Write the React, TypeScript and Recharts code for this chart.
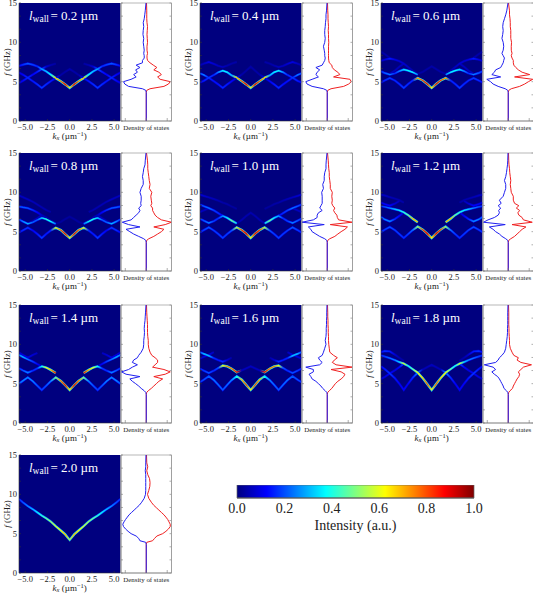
import { Area, AreaChart, CartesianGrid, Line, LineChart, ReferenceArea, XAxis, YAxis } from 'recharts';

const _ = null;
type Num = number | null;

// right half of the kx axis, mirrored for the left half
const kHalf = [0, 0.5, 1.0, 1.57, 2.14, 2.64, 3.14, 3.64, 4.14, 4.71, 5.28, 5.7];
const kLimit = 5.7;
const kTicks = [-5, -2.5, 0, 2.5, 5];
const fTicks = [0, 1.67, 3.33, 5, 6.67, 8.33, 10, 11.67, 13.33, 15];
const dosTicks = [-0.83, 0, 0.83];
const colorbarTicks = [0, 0.2, 0.4, 0.6, 0.8, 1];
const colorbarEnds = [{ v: 0, h: 1 }, { v: 1, h: 1 }];

// frequency grid of the density of states curves
const dosF = [0, 3.6, 3.9, 4.1, 4.4, 4.7, 5, 5.3, 5.6, 5.9, 6.2, 6.5, 6.8, 7.1, 7.4, 7.7, 8, 8.3, 8.6, 9, 9.5, 10, 10.5, 11, 11.5, 12, 12.5, 13, 13.5, 14, 15];

const bandsF02: Num[][] = [
  [_, _, _, 7.3, 7.1, 6.9, 6.6, 6.25, 5.9, 5.5, 5.1, 4.85],
  [6.6, 6.25, 5.85, 5.45, 5.05, 4.65, 4.2, 4.65, 5.05, 5.5, 5.9, 6.15],
  [4.2, 4.65, 5.05, 5.45, 5.9, 6.3, 6.6, 6.95, 7.15, 7.3, 7.15, 7.0],
];
const bandsI02: Num[][] = [
  [_, _, _, 0.05, 0.06, 0.1, 0.25, 0.18, 0.15, 0.2, 0.15, 0.12],
  [0.06, 0.05, 0.05, 0.15, 0.18, 0.2, 0.22, 0.2, 0.18, 0.2, 0.15, 0.12],
  [0.62, 0.85, 0.75, 0.68, 0.42, 0.36, 0.32, 0.2, 0.22, 0.25, 0.2, 0.15],
];
const dosRed02 = [0, 0, 0.02, 0.15, 0.7, 0.88, 0.95, 0.55, 0.45, 0.6, 0.5, 0.3, 0.42, 0.28, 0.15, 0.05, 0.03, 0.03, 0.05, 0.03, 0.03, 0.05, 0.04, 0.03, 0.04, 0.05, 0.03, 0.02, 0.02, 0.02, 0.01];
const dosBlue02 = [0, 0, 0.02, 0.15, 0.7, 0.85, 0.9, 0.6, 0.4, 0.5, 0.35, 0.42, 0.25, 0.4, 0.15, 0.15, 0.08, 0.08, 0.1, 0.08, 0.1, 0.12, 0.1, 0.13, 0.12, 0.1, 0.12, 0.08, 0.06, 0.04, 0.01];

const bandsF04: Num[][] = [
  [_, _, _, 7.5, 7.3, 7.05, 6.85, 7.0, 7.25, 7.5, 7.3, 7.1],
  [6.9, 6.4, 5.9, 5.5, 5.05, 4.65, 4.2, 4.65, 5.05, 5.5, 5.85, 6.05],
  [4.2, 4.65, 5.05, 5.5, 5.8, 6.2, 6.4, 6.2, 5.85, 5.5, 5.1, 4.9],
];
const bandsI04: Num[][] = [
  [_, _, _, 0.05, 0.05, 0.06, 0.08, 0.08, 0.1, 0.12, 0.08, 0.06],
  [0.05, 0.05, 0.05, 0.12, 0.15, 0.18, 0.2, 0.17, 0.17, 0.2, 0.3, 0.25],
  [0.62, 0.85, 0.78, 0.68, 0.35, 0.4, 0.42, 0.3, 0.2, 0.22, 0.18, 0.15],
];
const dosRed04 = [0, 0, 0.02, 0.15, 0.65, 0.85, 0.95, 0.9, 0.25, 0.5, 0.42, 0.28, 0.2, 0.18, 0.08, 0.06, 0.05, 0.05, 0.05, 0.05, 0.05, 0.06, 0.05, 0.05, 0.04, 0.05, 0.04, 0.03, 0.03, 0.02, 0.01];
const dosBlue04 = [0, 0, 0.02, 0.15, 0.6, 0.8, 0.85, 0.6, 0.35, 0.45, 0.4, 0.3, 0.45, 0.2, 0.15, 0.1, 0.08, 0.1, 0.1, 0.12, 0.15, 0.1, 0.08, 0.1, 0.1, 0.08, 0.07, 0.05, 0.05, 0.03, 0.01];

const bandsF06: Num[][] = [
  [_, _, _, _, _, _, _, _, _, 8.0, 8.5, 8.8],
  [_, _, _, _, _, _, 7.3, 6.9, 6.4, 6.0, _, _],
  [6.95, 6.6, 6.25, 6.0, 6.4, 6.85, 7.3, 7.6, 7.8, 7.95, 7.8, 7.65],
  [_, _, _, 5.9, 6.2, 6.4, 6.55, 6.35, 6.05, 5.9, 6.1, 6.3],
  [4.2, 4.7, 5.15, 5.45, 5.15, 4.7, 4.2, 4.7, 5.15, 5.45, 5.15, 4.9],
];
const bandsI06: Num[][] = [
  [_, _, _, _, _, _, _, _, _, 0.06, 0.05, 0.05],
  [_, _, _, _, _, _, 0.08, 0.08, 0.08, 0.08, _, _],
  [0.05, 0.05, 0.05, 0.05, 0.06, 0.08, 0.1, 0.1, 0.12, 0.18, 0.12, 0.1],
  [_, _, _, 0.3, 0.4, 0.42, 0.38, 0.3, 0.2, 0.3, 0.25, 0.2],
  [0.62, 0.85, 0.8, 0.72, 0.2, 0.2, 0.22, 0.2, 0.2, 0.22, 0.2, 0.15],
];
const dosRed06 = [0, 0, 0.02, 0.12, 0.45, 0.65, 0.8, 0.97, 0.25, 0.85, 0.55, 0.4, 0.3, 0.22, 0.2, 0.2, 0.15, 0.12, 0.15, 0.12, 0.12, 0.13, 0.1, 0.1, 0.1, 0.08, 0.08, 0.07, 0.05, 0.05, 0.01];
const dosBlue06 = [0, 0, 0.02, 0.12, 0.4, 0.6, 0.7, 0.85, 0.3, 0.65, 0.55, 0.5, 0.3, 0.25, 0.2, 0.18, 0.15, 0.2, 0.25, 0.2, 0.18, 0.2, 0.25, 0.22, 0.2, 0.22, 0.2, 0.15, 0.1, 0.06, 0.01];

const bandsF08: Num[][] = [
  [_, _, _, _, 7.5, 7.75, 8.1, 8.45, 8.8, 9.1, 9.4, 9.6],
  [_, _, _, _, _, _, 7.1, 6.7, 6.35, 6.0, _, _],
  [6.9, 6.6, 6.25, 6.0, 6.4, 6.8, 7.1, 7.45, 7.75, 8.0, 8.1, 8.2],
  [_, _, _, 6.0, 6.3, 6.6, 6.75, 6.5, 6.2, 6.0, 6.3, 6.55],
  [4.2, 4.7, 5.2, 5.5, 5.15, 4.7, 4.2, 4.7, 5.15, 5.5, 5.15, 4.9],
];
const bandsI08: Num[][] = [
  [_, _, _, _, 0.05, 0.06, 0.06, 0.07, 0.07, 0.08, 0.08, 0.08],
  [_, _, _, _, _, _, 0.08, 0.08, 0.08, 0.08, _, _],
  [0.04, 0.04, 0.04, 0.04, 0.05, 0.06, 0.08, 0.15, 0.2, 0.25, 0.25, 0.22],
  [_, _, _, 0.28, 0.42, 0.45, 0.38, 0.25, 0.25, 0.35, 0.3, 0.2],
  [0.6, 0.85, 0.78, 0.62, 0.2, 0.18, 0.22, 0.18, 0.15, 0.22, 0.2, 0.15],
];
const dosRed08 = [0, 0, 0.02, 0.1, 0.3, 0.45, 0.6, 0.7, 0.3, 0.75, 1, 0.6, 0.45, 0.35, 0.3, 0.25, 0.25, 0.18, 0.22, 0.2, 0.18, 0.22, 0.12, 0.15, 0.12, 0.1, 0.08, 0.06, 0.06, 0.05, 0.01];
const dosBlue08 = [0, 0, 0.02, 0.1, 0.3, 0.5, 0.65, 0.8, 0.25, 0.7, 0.95, 0.6, 0.5, 0.4, 0.3, 0.25, 0.3, 0.2, 0.22, 0.2, 0.2, 0.25, 0.2, 0.12, 0.12, 0.15, 0.12, 0.1, 0.05, 0.04, 0.01];

const bandsF10: Num[][] = [
  [_, _, _, 7.9, 8.2, 8.5, 8.7, 8.95, 9.15, 9.35, 9.55, 9.7],
  [_, _, _, _, _, _, _, _, _, 8.0, 7.7, 7.5],
  [7.4, 7.0, 6.5, 6.05, _, _, 7.0, 7.35, 7.7, 8.0, 8.25, 8.45],
  [_, _, _, 6.05, 6.4, 6.75, 7.0, 6.7, 6.35, 6.1, 6.4, 6.65],
  [4.2, 4.75, 5.2, 5.55, 5.15, 4.7, 4.2, 4.7, 5.15, 5.55, 5.2, 4.9],
];
const bandsI10: Num[][] = [
  [_, _, _, 0.04, 0.04, 0.05, 0.05, 0.06, 0.07, 0.08, 0.1, 0.1],
  [_, _, _, _, _, _, _, _, _, 0.1, 0.08, 0.08],
  [0.06, 0.06, 0.06, 0.06, _, _, 0.15, 0.2, 0.22, 0.28, 0.25, 0.2],
  [_, _, _, 0.38, 0.52, 0.4, 0.33, 0.2, 0.22, 0.3, 0.25, 0.2],
  [0.62, 0.85, 0.8, 0.58, 0.25, 0.22, 0.22, 0.22, 0.22, 0.25, 0.22, 0.18],
];
const dosRed10 = [0, 0, 0.02, 0.1, 0.3, 0.42, 0.55, 0.7, 0.8, 0.12, 0.98, 0.45, 0.4, 0.38, 0.3, 0.25, 0.3, 0.22, 0.18, 0.2, 0.18, 0.2, 0.12, 0.12, 0.1, 0.08, 0.08, 0.06, 0.05, 0.04, 0.01];
const dosBlue10 = [0, 0, 0.02, 0.1, 0.3, 0.45, 0.6, 0.65, 0.75, 0.12, 1, 0.55, 0.4, 0.4, 0.35, 0.2, 0.3, 0.25, 0.2, 0.2, 0.2, 0.22, 0.15, 0.18, 0.12, 0.12, 0.1, 0.05, 0.05, 0.04, 0.01];

const bandsF12: Num[][] = [
  [_, _, _, _, _, _, 8.7, 9.0, 9.2, 9.4, 9.6, 9.7],
  [_, _, _, _, _, _, _, 8.9, 8.55, 8.3, 8.5, 8.7],
  [_, _, _, _, _, _, 7.45, 7.0, 6.6, 6.3, 6.55, 6.85],
  [_, _, _, 6.2, 6.65, 7.1, 7.45, 7.7, 7.85, 8.0, 8.15, 8.25],
  [4.2, 4.75, 5.25, 5.65, 5.2, 4.7, 4.2, 4.7, 5.2, 5.6, 5.25, 4.95],
];
const bandsI12: Num[][] = [
  [_, _, _, _, _, _, 0.05, 0.06, 0.06, 0.07, 0.08, 0.08],
  [_, _, _, _, _, _, _, 0.08, 0.1, 0.15, 0.15, 0.12],
  [_, _, _, _, _, _, 0.1, 0.15, 0.2, 0.3, 0.3, 0.25],
  [_, _, _, 0.7, 0.7, 0.5, 0.45, 0.4, 0.35, 0.3, 0.25, 0.2],
  [0.65, 0.85, 0.8, 0.55, 0.28, 0.22, 0.2, 0.22, 0.22, 0.25, 0.22, 0.2],
];
const dosRed12 = [0, 0, 0.02, 0.1, 0.25, 0.35, 0.45, 0.55, 0.7, 0.15, 0.95, 0.6, 0.55, 0.42, 0.38, 0.45, 0.32, 0.42, 0.25, 0.2, 0.2, 0.12, 0.1, 0.08, 0.1, 0.08, 0.06, 0.05, 0.03, 0.02, 0.01];
const dosBlue12 = [0, 0, 0.02, 0.1, 0.25, 0.35, 0.5, 0.6, 0.75, 0.12, 0.98, 0.8, 0.55, 0.4, 0.35, 0.38, 0.3, 0.4, 0.28, 0.35, 0.2, 0.15, 0.1, 0.1, 0.15, 0.1, 0.07, 0.05, 0.03, 0.02, 0.01];

const bandsF14: Num[][] = [
  [_, _, _, _, _, _, _, 8.9, 8.65, 8.3, 8.65, 8.95],
  [_, _, _, _, _, _, 7.2, 7.5, 7.8, 8.1, 8.4, 8.65],
  [_, _, _, 6.35, 6.75, 7.05, 7.2, 6.95, 6.65, 6.4, 6.7, 6.95],
  [4.2, 4.8, 5.35, 5.8, 5.3, 4.75, 4.2, 4.75, 5.3, 5.8, 5.35, 5.0],
];
const bandsI14: Num[][] = [
  [_, _, _, _, _, _, _, 0.08, 0.1, 0.12, 0.12, 0.1],
  [_, _, _, _, _, _, 0.1, 0.15, 0.22, 0.28, 0.35, 0.3],
  [_, _, _, 0.85, 0.7, 0.62, 0.42, 0.22, 0.2, 0.3, 0.25, 0.2],
  [0.62, 0.85, 0.75, 0.52, 0.3, 0.25, 0.22, 0.25, 0.3, 0.3, 0.3, 0.25],
];
const dosRed14 = [0, 0, 0.02, 0.08, 0.2, 0.3, 0.4, 0.5, 0.65, 0.3, 0.75, 0.95, 0.7, 0.25, 0.35, 0.45, 0.45, 0.35, 0.22, 0.15, 0.1, 0.08, 0.08, 0.06, 0.05, 0.05, 0.05, 0.04, 0.03, 0.02, 0.01];
const dosBlue14 = [0, 0, 0.02, 0.08, 0.2, 0.3, 0.42, 0.55, 0.65, 0.25, 0.8, 0.98, 0.7, 0.55, 0.35, 0.55, 0.5, 0.35, 0.3, 0.2, 0.12, 0.1, 0.1, 0.08, 0.07, 0.08, 0.07, 0.05, 0.04, 0.03, 0.01];

const bandsF16: Num[][] = [
  [_, _, _, _, _, _, _, _, 9.0, 8.65, 8.4, 8.2],
  [_, _, _, _, 8.3, 8.0, 7.8, 8.0, 8.25, 8.55, 8.8, 9.0],
  [7.2, 6.95, 6.7, 6.45, 6.9, 7.2, 7.3, 7.0, 6.65, 6.35, 6.65, 6.9],
  [4.2, 4.85, 5.5, 5.95, 5.45, 4.85, 4.2, 4.85, 5.45, 5.95, 5.5, 5.2],
];
const bandsI16: Num[][] = [
  [_, _, _, _, _, _, _, _, 0.08, 0.12, 0.12, 0.1],
  [_, _, _, _, 0.05, 0.1, 0.2, 0.18, 0.2, 0.35, 0.35, 0.25],
  [0.08, 0.08, 0.08, 0.85, 0.75, 0.75, 0.62, 0.25, 0.2, 0.25, 0.22, 0.18],
  [0.62, 0.8, 0.7, 0.42, 0.3, 0.28, 0.25, 0.28, 0.28, 0.25, 0.25, 0.2],
];
const dosRed16 = [0, 0, 0.02, 0.08, 0.18, 0.25, 0.32, 0.42, 0.55, 0.65, 0.7, 0.55, 0.15, 0.98, 0.35, 0.2, 0.28, 0.4, 0.25, 0.1, 0.08, 0.06, 0.05, 0.05, 0.04, 0.04, 0.03, 0.03, 0.02, 0.02, 0.01];
const dosBlue16 = [0, 0, 0.02, 0.08, 0.18, 0.25, 0.35, 0.45, 0.6, 0.65, 0.72, 0.55, 0.55, 0.85, 0.3, 0.2, 0.3, 0.35, 0.2, 0.15, 0.1, 0.05, 0.08, 0.05, 0.04, 0.04, 0.03, 0.03, 0.02, 0.02, 0.01];

const bandsF18: Num[][] = [
  [_, _, _, _, _, _, 7.9, 8.3, 8.7, 9.1, 9.15, 9.0],
  [_, _, _, _, _, _, 7.55, 7.1, 6.7, 6.3, 5.85, 5.6],
  [7.4, 7.1, 6.8, 6.4, 5.75, 5.0, 4.2, 5.0, 5.7, 6.3, 6.85, 7.2],
  [4.2, 4.95, 5.7, 6.4, 6.85, 7.25, 7.55, 7.75, 8.0, 8.25, 8.45, 8.6],
];
const bandsI18: Num[][] = [
  [_, _, _, _, _, _, 0.05, 0.06, 0.1, 0.18, 0.2, 0.15],
  [_, _, _, _, _, _, 0.25, 0.15, 0.12, 0.15, 0.12, 0.1],
  [0.08, 0.07, 0.07, 0.3, 0.2, 0.15, 0.15, 0.15, 0.18, 0.22, 0.18, 0.15],
  [0.62, 0.78, 0.68, 0.62, 0.5, 0.42, 0.62, 0.38, 0.3, 0.28, 0.22, 0.2],
];
const dosRed18 = [0, 0, 0.02, 0.07, 0.17, 0.2, 0.25, 0.3, 0.35, 0.42, 0.45, 0.4, 0.5, 0.6, 0.92, 0.5, 0.35, 0.4, 0.22, 0.15, 0.08, 0.05, 0.05, 0.04, 0.03, 0.03, 0.02, 0.02, 0.02, 0.02, 0.01];
const dosBlue18 = [0, 0, 0.02, 0.07, 0.17, 0.2, 0.25, 0.3, 0.35, 0.42, 0.55, 0.65, 0.5, 0.6, 0.95, 0.5, 0.4, 0.35, 0.25, 0.15, 0.1, 0.08, 0.06, 0.04, 0.03, 0.03, 0.02, 0.02, 0.02, 0.02, 0.01];

const bandsF20: Num[][] = [[4.2, 4.9, 5.4, 5.95, 6.55, 6.95, 7.3, 7.7, 8.1, 8.5, 9.0, 9.4]];
const bandsI20: Num[][] = [[0.55, 0.7, 0.65, 0.6, 0.55, 0.5, 0.45, 0.4, 0.35, 0.3, 0.25, 0.2]];
const dosRed20 = [0, 0, 0.02, 0.25, 0.33, 0.42, 0.65, 0.78, 0.88, 0.95, 0.95, 0.9, 0.85, 0.78, 0.7, 0.6, 0.5, 0.4, 0.3, 0.2, 0.1, 0.05, 0.1, 0.14, 0.15, 0.13, 0.06, 0.02, 0.06, 0.02, 0.01];
const dosBlue20 = [0, 0, 0.02, 0.25, 0.3, 0.4, 0.6, 0.72, 0.82, 0.9, 0.93, 0.88, 0.82, 0.75, 0.68, 0.58, 0.48, 0.38, 0.28, 0.18, 0.08, 0.03, 0.02, 0.02, 0.02, 0.02, 0.02, 0.04, 0.02, 0.02, 0.01];

const wallLabels = ['0.2', '0.4', '0.6', '0.8', '1.0', '1.2', '1.4', '1.6', '1.8', '2.0'];
const allBandsF = [bandsF02, bandsF04, bandsF06, bandsF08, bandsF10, bandsF12, bandsF14, bandsF16, bandsF18, bandsF20];
const allBandsI = [bandsI02, bandsI04, bandsI06, bandsI08, bandsI10, bandsI12, bandsI14, bandsI16, bandsI18, bandsI20];
const allDosRed = [dosRed02, dosRed04, dosRed06, dosRed08, dosRed10, dosRed12, dosRed14, dosRed16, dosRed18, dosRed20];
const allDosBlue = [dosBlue02, dosBlue04, dosBlue06, dosBlue08, dosBlue10, dosBlue12, dosBlue14, dosBlue16, dosBlue18, dosBlue20];

const colLeft = [19.3, 200.3, 381.3];
const rowTop = [2.5, 153, 304.5, 454.5];
const PLOT_W = 101.4;
const PLOT_H = 118;
const AXIS_W = 19;
const AXIS_H = 28;
const PAD = 8; // room above the plot so the "15" label is not cut by the chart's own svg
const FONT = '"Liberation Serif", "Times New Roman", serif';
const NAVY = '#00007f';

const clamp = (v: number) => Math.max(0, Math.min(1, v));
function jet(v: number) {
  const r = clamp(Math.min(4 * v - 1.5, -4 * v + 4.5));
  const g = clamp(Math.min(4 * v - 0.5, -4 * v + 3.5));
  const b = clamp(Math.min(4 * v + 0.5, -4 * v + 2.5));
  return `rgb(${Math.round(r * 255)},${Math.round(g * 255)},${Math.round(b * 255)})`;
}
// the thin strokes read brighter than the blurred original, so faint branches are pulled down a little
const shown = (i: number) => i * (0.75 + 0.35 * i);

const mirror = <T,>(half: T[]) => [...half.slice(1).reverse(), ...half];
const kFull = [...kHalf.slice(1).reverse().map((k) => -k), ...kHalf];

function Heatmap({ index, left, top }: { index: number; left: number; top: number }) {
  const bandsF = allBandsF[index];
  const bandsI = allBandsI[index];
  const rows = kFull.map((k, i) => {
    const row: Record<string, number | null> = { k };
    bandsF.forEach((band, b) => {
      row[`b${b}`] = mirror(band)[i];
    });
    return row;
  });
  const stops = (band: Num[], scale: number) =>
    mirror(band).map((v, i) =>
      v === null ? null : <stop key={i} offset={(kFull[i] + kLimit) / (2 * kLimit)} stopColor={jet(shown(v) * scale)} />,
    );
  const midY = PAD + PLOT_H / 2;
  return (
    <div style={{ position: 'absolute', left: left - AXIS_W, top: top - PAD }}>
      <LineChart width={AXIS_W + PLOT_W} height={PLOT_H + AXIS_H + PAD} data={rows} margin={{ top: PAD, right: 0, bottom: 0, left: 0 }}>
        <defs>
          <filter id={`soft${index}`} x="-10%" y="-50%" width="120%" height="200%">
            <feGaussianBlur stdDeviation="0.5" />
          </filter>
          {bandsI.map((band, b) => (
            <linearGradient key={b} id={`top${index}-${b}`} gradientUnits="userSpaceOnUse" x1={AXIS_W} x2={AXIS_W + PLOT_W} y1={0} y2={0}>
              {stops(band, 1)}
            </linearGradient>
          ))}
          {bandsI.map((band, b) => (
            <linearGradient key={b} id={`glow${index}-${b}`} gradientUnits="userSpaceOnUse" x1={AXIS_W} x2={AXIS_W + PLOT_W} y1={0} y2={0}>
              {stops(band, 0.5)}
            </linearGradient>
          ))}
        </defs>
        <CartesianGrid fill={NAVY} horizontal={false} vertical={false} />
        <XAxis
          type="number"
          dataKey="k"
          domain={[-kLimit, kLimit]}
          ticks={kTicks}
          interval={0}
          height={AXIS_H}
          allowDataOverflow
          tickFormatter={(v: number) => v.toFixed(1).replace('-', '\u2212')}
          tick={{ fontSize: 8.5, fontFamily: FONT, fill: '#222', dy: 2 }}
          tickSize={-2}
          tickMargin={3}
          stroke="#333"
          strokeWidth={0.6}
        />
        <YAxis
          type="number"
          domain={[0, 15]}
          ticks={fTicks}
          interval={0}
          width={AXIS_W}
          tickFormatter={(v: number) => (v % 5 === 0 ? String(v) : '')}
          tick={{ fontSize: 8.5, fontFamily: FONT, fill: '#222' }}
          tickSize={-2}
          tickMargin={4}
          stroke="#333"
          strokeWidth={0.6}
        />
        {bandsF.map((_band, b) => (
          <Line
            key={`g${b}`}
            dataKey={`b${b}`}
            type="linear"
            dot={false}
            stroke={`url(#glow${index}-${b})`}
            strokeWidth={2.4}
            filter={`url(#soft${index})`}
            isAnimationActive={false}
          />
        ))}
        {bandsF.map((_band, b) => (
          <Line
            key={`t${b}`}
            dataKey={`b${b}`}
            type="linear"
            dot={false}
            stroke={`url(#top${index}-${b})`}
            strokeWidth={1.4}
            isAnimationActive={false}
          />
        ))}
        <text x={AXIS_W + 10} y={PAD + 17} fill="#fff" fontFamily={FONT} fontSize={13}>
          <tspan fontStyle="italic">l</tspan>
          <tspan fontSize={9.5} dy={2.5}>wall</tspan>
          <tspan dy={-2.5} dx={1.5}>{`= ${wallLabels[index]} \u00b5m`}</tspan>
        </text>
        <text x={AXIS_W + PLOT_W / 2} y={PAD + PLOT_H + 18} textAnchor="middle" fill="#222" fontFamily={FONT} fontSize={9}>
          <tspan fontStyle="italic">k</tspan>
          <tspan fontSize={6.5} dy={1.5} fontStyle="italic">x</tspan>
          <tspan dy={-1.5}>{' (\u00b5m'}</tspan>
          <tspan fontSize={6.5} dy={-3}>{'\u22121'}</tspan>
          <tspan dy={3}>)</tspan>
        </text>
        <text x={10} y={midY} textAnchor="middle" fill="#222" fontFamily={FONT} fontSize={9} transform={`rotate(-90 10 ${midY})`}>
          <tspan fontStyle="italic">f</tspan>
          <tspan> (GHz)</tspan>
        </text>
      </LineChart>
    </div>
  );
}

function Dos({ index, left, top }: { index: number; left: number; top: number }) {
  const rows = dosF.map((f, i) => ({ f, up: allDosRed[index][i], down: -allDosBlue[index][i] }));
  return (
    <div style={{ position: 'absolute', left: left - 1, top: top - PAD }}>
      <LineChart
        layout="vertical"
        width={52.5}
        height={PLOT_H + AXIS_H + PAD}
        data={rows}
        margin={{ top: PAD, right: 0, bottom: 0, left: 0 }}
      >
        <XAxis
          type="number"
          domain={[-1, 1]}
          ticks={dosTicks}
          interval={0}
          height={AXIS_H}
          tickFormatter={() => ''}
          tickSize={-3}
          stroke="#777"
          strokeWidth={0.6}
        />
        <YAxis
          yAxisId="l"
          type="number"
          dataKey="f"
          domain={[0, 15]}
          ticks={fTicks}
          interval={0}
          width={1}
          reversed
          tickFormatter={() => ''}
          tickSize={-2}
          stroke="#777"
          strokeWidth={0.6}
        />
        <YAxis
          yAxisId="r"
          orientation="right"
          type="number"
          dataKey="f"
          domain={[0, 15]}
          ticks={fTicks}
          interval={0}
          width={1}
          reversed
          tickFormatter={() => ''}
          tickSize={-2}
          stroke="#999"
          strokeWidth={0.8}
        />
        <ReferenceArea yAxisId="l" x1={-1} x2={1} y1={0} y2={15} fill="none" stroke="#999" strokeWidth={0.7} />
        <Line yAxisId="l" dataKey="up" type="linear" dot={false} stroke="#f02020" strokeWidth={1} isAnimationActive={false} />
        <Line yAxisId="l" dataKey="down" type="linear" dot={false} stroke="#2020f0" strokeWidth={1} isAnimationActive={false} />
        <text x={26.2} y={PAD + PLOT_H + 9} textAnchor="middle" fill="#222" fontFamily={FONT} fontSize={6.9}>
          Density of states
        </text>
      </LineChart>
    </div>
  );
}

function Colorbar() {
  return (
    <div style={{ position: 'absolute', left: 217, top: 485 }}>
      <AreaChart width={277} height={60} data={colorbarEnds} margin={{ top: 0, right: 20, bottom: 0, left: 20 }}>
        <defs>
          <linearGradient id="jetBar" x1="0" x2="1" y1="0" y2="0">
            {Array.from({ length: 41 }, (_v, i) => (
              <stop key={i} offset={i / 40} stopColor={jet(i / 40)} />
            ))}
          </linearGradient>
        </defs>
        <XAxis
          type="number"
          dataKey="v"
          domain={[0, 1]}
          ticks={colorbarTicks}
          interval={0}
          height={47}
          tickFormatter={(v: number) => v.toFixed(1)}
          tick={{ fontSize: 14, fontFamily: FONT, fill: '#222', dy: 2 }}
          tickLine={false}
          tickSize={3}
          tickMargin={0}
          stroke="#555"
        />
        <YAxis hide type="number" domain={[0, 1]} />
        <Area dataKey="h" type="linear" fill="url(#jetBar)" fillOpacity={1} stroke="none" isAnimationActive={false} />
        <ReferenceArea x1={0} x2={1} y1={0} y2={1} fill="none" stroke="#666" strokeWidth={0.7} />
        <text x={138.5} y={44.5} textAnchor="middle" fill="#222" fontFamily={FONT} fontSize={14}>
          Intensity (a.u.)
        </text>
      </AreaChart>
    </div>
  );
}

export default function App() {
  return (
    <div style={{ position: 'absolute', left: 0, top: 0, width: 533, height: 593, background: '#fff', overflow: 'hidden' }}>
      {wallLabels.map((_label, index) => {
        const left = colLeft[index % 3];
        const top = rowTop[Math.floor(index / 3)];
        return (
          <div key={index}>
            <Heatmap index={index} left={left} top={top} />
            <Dos index={index} left={left + PLOT_W} top={top} />
          </div>
        );
      })}
      <Colorbar />
    </div>
  );
}
